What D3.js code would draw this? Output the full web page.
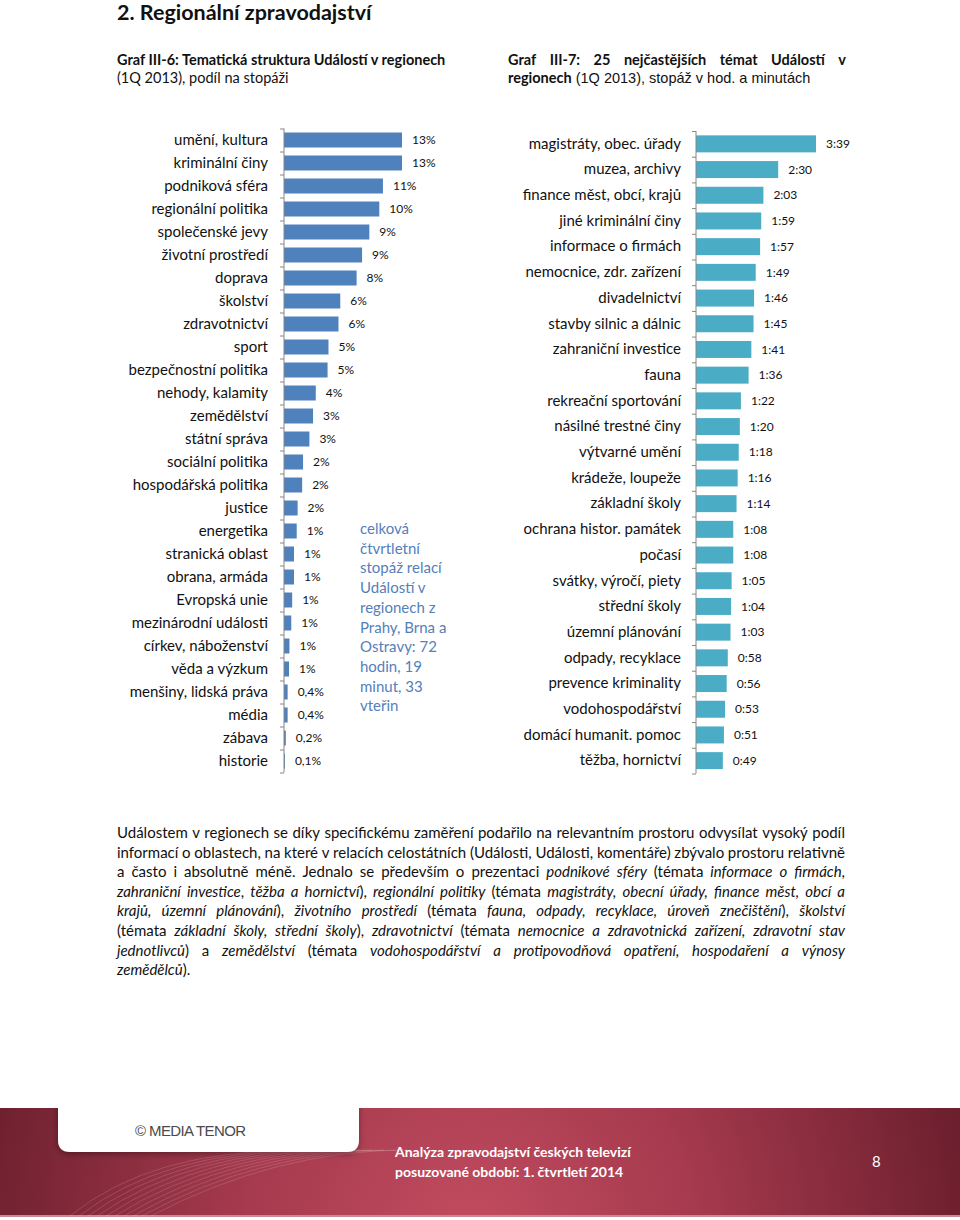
<!DOCTYPE html>
<html><head><meta charset="utf-8">
<script src="https://cdn.jsdelivr.net/npm/d3@7"></script>
<style>body{margin:0;background:#fff} svg{display:block}</style>
</head><body>
<svg id="c" width="960" height="1220"></svg>
<script>
// ---------- DATA ----------
const leftCats = ["umění, kultura","kriminální činy","podniková sféra","regionální politika","společenské jevy","životní prostředí","doprava","školství","zdravotnictví","sport","bezpečnostní politika","nehody, kalamity","zemědělství","státní správa","sociální politika","hospodářská politika","justice","energetika","stranická oblast","obrana, armáda","Evropská unie","mezinárodní události","církev, náboženství","věda a výzkum","menšiny, lidská práva","média","zábava","historie"];
const leftVals = [13.0,13.0,10.9,10.5,9.4,8.6,8.0,6.2,6.0,4.9,4.8,3.5,3.2,2.8,2.1,2.0,1.5,1.4,1.1,1.1,0.9,0.8,0.6,0.55,0.4,0.4,0.2,0.1];
const leftLabels = ["13%","13%","11%","10%","9%","9%","8%","6%","6%","5%","5%","4%","3%","3%","2%","2%","2%","1%","1%","1%","1%","1%","1%","1%","0,4%","0,4%","0,2%","0,1%"];

const rightCats = ["magistráty, obec. úřady","muzea, archivy","finance měst, obcí, krajů","jiné kriminální činy","informace o firmách","nemocnice, zdr. zařízení","divadelnictví","stavby silnic a dálnic","zahraniční investice","fauna","rekreační sportování","násilné trestné činy","výtvarné umění","krádeže, loupeže","základní školy","ochrana histor. památek","počasí","svátky, výročí, piety","střední školy","územní plánování","odpady, recyklace","prevence kriminality","vodohospodářství","domácí humanit. pomoc","těžba, hornictví"];
const rightMinutes = [219,150,123,119,117,109,106,105,101,96,82,80,78,76,74,68,68,65,64,63,58,56,53,51,49];

const annotLines = ["celková","čtvrtletní","stopáž relací","Událostí v","regionech z","Prahy, Brna a","Ostravy: 72","hodin, 19","minut, 33","vteřin"];

const paragraph = [
  [["Událostem v regionech se díky specifickému zaměření podařilo na relevantním prostoru odvysílat vysoký podíl","n"]],
  [["informací o oblastech, na které v relacích celostátních (Události, Události, komentáře) zbývalo prostoru relativně","n"]],
  [["a často i absolutně méně. Jednalo se především o prezentaci ","n"],["podnikové sféry","i"],[" (témata ","n"],["informace o firmách","i"],[",","n"]],
  [["zahraniční investice","i"],[", ","n"],["těžba a hornictví","i"],["), ","n"],["regionální politiky","i"],[" (témata ","n"],["magistráty, obecní úřady, finance měst, obcí a","i"]],
  [["krajů, územní plánování","i"],["), ","n"],["životního prostředí","i"],[" (témata ","n"],["fauna, odpady, recyklace, úroveň znečištění","i"],["), ","n"],["školství","i"]],
  [["(témata ","n"],["základní školy, střední školy","i"],["), ","n"],["zdravotnictví","i"],[" (témata ","n"],["nemocnice a zdravotnická zařízení, zdravotní stav","i"]],
  [["jednotlivců","i"],[") a ","n"],["zemědělství","i"],[" (témata ","n"],["vodohospodářství a protipovodňová opatření, hospodaření a výnosy","i"]],
  [["zemědělců","i"],[").","n"]]
];

// ---------- SETUP ----------
const FONT = "Lato, 'Open Sans', sans-serif";
const svg = d3.select("#c");
svg.append("rect").attr("width",960).attr("height",1220).attr("fill","#fff");

// justify helper
function lineText(g, pieces, x0, x1, y, justify, size, color) {
  const words = []; let cur = [];
  pieces.forEach(([t, s]) => {
    t.split(" ").forEach((p, i) => {
      if (i > 0) { if (cur.length) words.push(cur); cur = []; }
      if (p.length) cur.push([p, s]);
    });
  });
  if (cur.length) words.push(cur);
  const nodes = words.map(w => {
    const t = g.append("text").attr("y", y).attr("font-family", FONT).attr("font-size", size).attr("fill", color || "#111");
    w.forEach(([p, s]) => t.append("tspan").text(p)
      .attr("font-style", s === "i" ? "italic" : "normal")
      .attr("font-weight", s === "b" ? "bold" : "normal"));
    return t;
  });
  const widths = nodes.map(n => n.node().getComputedTextLength());
  const total = d3.sum(widths);
  const sp = size * 0.26;
  const gap = (justify && nodes.length > 1) ? (x1 - x0 - total) / (nodes.length - 1) : sp;
  let x = x0;
  nodes.forEach((n, i) => { n.attr("x", x); x += widths[i] + gap; });
}

// ---------- HEADER ----------
svg.append("text").attr("x",117).attr("y",20).attr("font-family",FONT).attr("font-size",21.5).attr("font-weight","bold").attr("fill","#111")
  .text("2.  Regionální zpravodajství");

const hdr = svg.append("g");
hdr.append("text").attr("x",117).attr("y",65).attr("font-family",FONT).attr("font-size",14.5).attr("font-weight","bold").attr("fill","#111")
  .text("Graf III-6: Tematická struktura Událostí v regionech");
hdr.append("text").attr("x",117).attr("y",83).attr("font-family",FONT).attr("font-size",14.5).attr("fill","#111")
  .text("(1Q 2013), podíl na stopáži");
lineText(hdr, [["Graf III-7: 25 nejčastějších témat Událostí v","b"]], 508, 846, 65, true, 14.5, "#111");
const l2 = hdr.append("text").attr("x",508).attr("y",83).attr("font-size",14.5).attr("fill","#111");
l2.append("tspan").attr("font-family",FONT).attr("font-weight","bold").text("regionech");
l2.append("tspan").attr("font-family","'Liberation Sans', Arial, sans-serif").attr("font-size",14.5).text(" (1Q 2013), stopáž v hod. a minutách");

// ---------- LEFT CHART ----------
const gl = svg.append("g");
const xL = d3.scaleLinear().domain([0, 13]).range([284, 402]);
const yL = d3.scaleBand().domain(leftCats).range([128.5, 772.5]).paddingInner(0.348).paddingOuter(0.174);
const yLb = d3.scaleLinear().domain([0, leftCats.length]).range([128.5, 772.5]);

gl.selectAll("rect.bar").data(leftCats).join("rect").attr("class","bar")
  .attr("x", xL(0)).attr("y", d => yL(d))
  .attr("width", (d,i) => xL(leftVals[i]) - xL(0)).attr("height", yL.bandwidth())
  .attr("fill", "#4F81BD");

gl.append("g").attr("transform", `translate(${xL(0)},0)`)
  .call(d3.axisLeft(yLb).tickValues(d3.range(leftCats.length + 1)).tickSize(4).tickFormat(""))
  .call(g => g.selectAll("path,line").attr("stroke", "#868686"))
  .call(g => g.select(".domain").attr("d", `M0,${yLb(0)}V${yLb(leftCats.length)}`));

gl.append("g").attr("transform", `translate(${xL(0)},0)`)
  .call(d3.axisLeft(yL).tickSize(0).tickPadding(16))
  .call(g => g.select(".domain").remove())
  .call(g => g.selectAll("text").attr("font-family", FONT).attr("font-size", 15).attr("fill", "#111"));

gl.selectAll("text.val").data(leftCats).join("text").attr("class","val")
  .attr("x", (d,i) => xL(leftVals[i]) + 10).attr("y", d => yL(d) + yL.bandwidth()/2).attr("dy","0.35em")
  .attr("font-family", FONT).attr("font-size", 12).attr("fill", "#111")
  .text((d,i) => leftLabels[i]);

// annotation
svg.append("g").selectAll("text").data(annotLines).join("text")
  .attr("x", 360).attr("y", (d,i) => 534 + i*19.7)
  .attr("font-family", FONT).attr("font-size", 15).attr("fill", "#5580ba")
  .text(d => d);

// ---------- RIGHT CHART ----------
const gr = svg.append("g");
const xR = d3.scaleLinear().domain([0, 219]).range([696, 816]);
const yR = d3.scaleBand().domain(rightCats).range([131, 773.5]).paddingInner(0.339).paddingOuter(0.17);
const yRb = d3.scaleLinear().domain([0, rightCats.length]).range([131, 773.5]);
const fmtHM = m => Math.floor(m/60) + ":" + d3.format("02d")(m % 60);

gr.selectAll("rect.bar").data(rightCats).join("rect").attr("class","bar")
  .attr("x", xR(0)).attr("y", d => yR(d))
  .attr("width", (d,i) => xR(rightMinutes[i]) - xR(0)).attr("height", yR.bandwidth())
  .attr("fill", "#4BACC6");

gr.append("g").attr("transform", `translate(${xR(0)},0)`)
  .call(d3.axisLeft(yRb).tickValues(d3.range(rightCats.length + 1)).tickSize(4).tickFormat(""))
  .call(g => g.selectAll("path,line").attr("stroke", "#868686"))
  .call(g => g.select(".domain").attr("d", `M0,${yRb(0)}V${yRb(rightCats.length)}`));

gr.append("g").attr("transform", `translate(${xR(0)},0)`)
  .call(d3.axisLeft(yR).tickSize(0).tickPadding(15))
  .call(g => g.select(".domain").remove())
  .call(g => g.selectAll("text").attr("font-family", FONT).attr("font-size", 15).attr("fill", "#111"));

gr.selectAll("text.val").data(rightCats).join("text").attr("class","val")
  .attr("x", (d,i) => xR(rightMinutes[i]) + 10).attr("y", d => yR(d) + yR.bandwidth()/2).attr("dy","0.35em")
  .attr("font-family", FONT).attr("font-size", 12).attr("fill", "#111")
  .text((d,i) => fmtHM(rightMinutes[i]));

// ---------- PARAGRAPH ----------
const gp = svg.append("g");
paragraph.forEach((line, i) => {
  lineText(gp, line, 117, 845, 838 + i*19.6, i < paragraph.length - 1, 15, "#111");
});

// ---------- FOOTER ----------
const defs = svg.append("defs");
const rg = defs.append("radialGradient").attr("id","fg").attr("gradientUnits","userSpaceOnUse")
  .attr("cx",470).attr("cy",1235).attr("r",500);
rg.append("stop").attr("offset","0%").attr("stop-color","#c24c60");
rg.append("stop").attr("offset","45%").attr("stop-color","#a63a4e");
rg.append("stop").attr("offset","100%").attr("stop-color","#6c1f2e");
const sh = defs.append("filter").attr("id","sh").attr("x","-10%").attr("y","-30%").attr("width","120%").attr("height","170%");
sh.append("feDropShadow").attr("dx",0).attr("dy",2).attr("stdDeviation",3).attr("flood-color","#000").attr("flood-opacity",0.35);

const gf = svg.append("g");
gf.append("rect").attr("x",0).attr("y",1108).attr("width",960).attr("height",108).attr("fill","url(#fg)");
gf.append("rect").attr("x",0).attr("y",1215).attr("width",960).attr("height",2).attr("fill","#c98a95");
// decorative arcs
const arcG = gf.append("g").attr("fill","none").attr("stroke","#ffffff").attr("stroke-opacity",0.18).attr("stroke-width",0.8);
d3.range(10).forEach(k => {
  arcG.append("path").attr("d", `M${70 + k*9},1216 Q${150 + k*14},1150 ${300 + k*12},1150`);
});
gf.append("path")
  .attr("d","M58,1100 H359 V1140 Q359,1152 347,1152 H70 Q58,1152 58,1140 Z")
  .attr("fill","#fff").attr("filter","url(#sh)");
gf.append("rect").attr("x",40).attr("y",1096).attr("width",340).attr("height",12).attr("fill","#fff");
gf.append("text").attr("x",135).attr("y",1136).attr("font-family","'Liberation Sans', Arial, sans-serif").attr("font-size",15)
  .attr("fill","#4a4a4a").attr("letter-spacing",-0.6).text("© MEDIA TENOR");
gf.append("text").attr("x",395).attr("y",1157).attr("font-family",FONT).attr("font-size",14).attr("font-weight","bold")
  .attr("fill","#fff").text("Analýza zpravodajství českých televizí");
gf.append("text").attr("x",395).attr("y",1177).attr("font-family",FONT).attr("font-size",14).attr("font-weight","bold")
  .attr("fill","#fff").text("posuzované období: 1. čtvrtletí 2014");
gf.append("text").attr("x",872).attr("y",1167).attr("font-family",FONT).attr("font-size",15)
  .attr("fill","#fff").text("8");
</script>
</body></html>
